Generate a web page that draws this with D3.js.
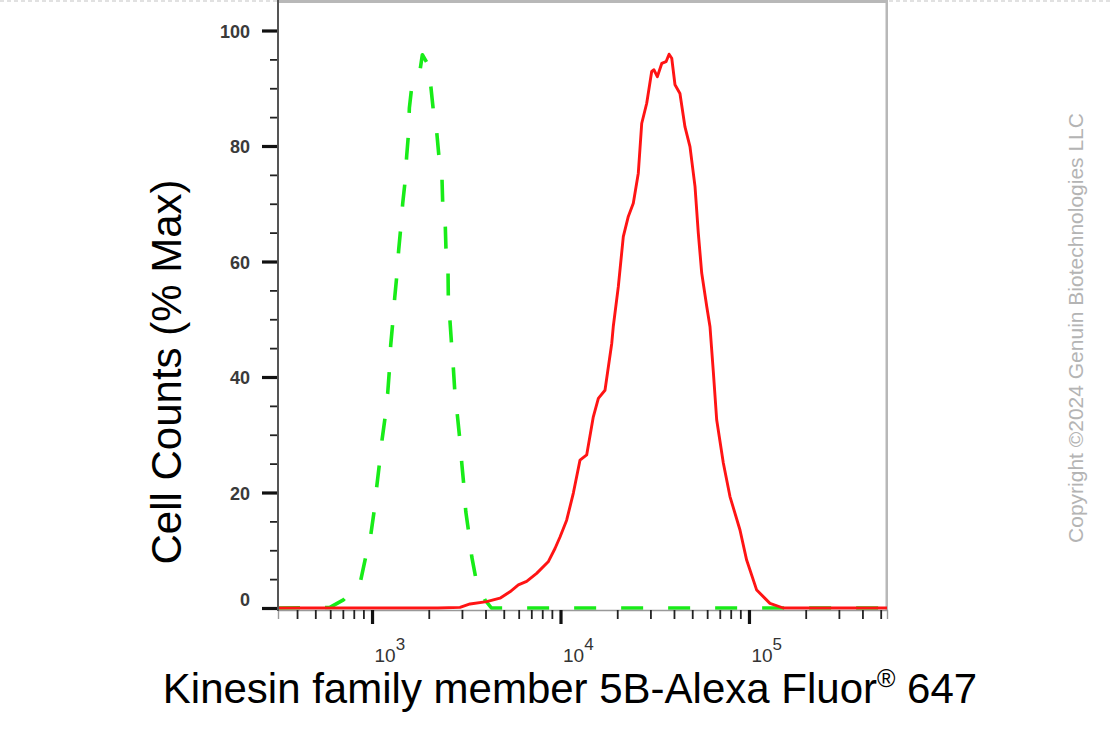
<!DOCTYPE html>
<html><head><meta charset="utf-8">
<script src="https://cdn.jsdelivr.net/npm/d3@7"></script>
<style>
body{margin:0;background:#fff;}
svg{display:block;font-family:"Liberation Sans",Arial,Helvetica,sans-serif;}
</style>
</head><body>
<svg id="c" width="1110" height="730"></svg>
<script>
// ---- data ----
const isotypeX = [317, 598, 705, 871, 918, 984, 1025, 1059, 1093, 1130, 1172, 1211, 1236, 1256, 1288, 1319, 1352, 1385, 1420, 1455, 1497, 1528, 1559, 1578, 1625, 1783, 1849, 1965, 2047, 2114, 2203, 2266, 2350, 2371, 2448, 2470, 2531, 2540, 2593, 2648, 2700, 2757, 2836, 2931, 2993, 3078, 3143, 3284, 3381, 3594, 3974, 4300, 540000];
const isotypeY = [0, 0.1, 1.4, 4.8, 8.3, 12.6, 16.7, 21.0, 24.8, 29.1, 32.9, 37.2, 41.2, 45.5, 49.4, 53.7, 57.4, 62.0, 65.8, 70.1, 73.8, 78.4, 81.9, 86.6, 90.3, 92.3, 95.8, 94.3, 90.6, 86.2, 82.5, 78.1, 74.5, 70.1, 66.0, 61.7, 58.0, 53.7, 49.6, 45.2, 41.6, 36.9, 33.4, 28.8, 25.1, 20.8, 16.7, 12.3, 8.9, 4.3, 1.4, 0, 0];
const sampleX = [317, 2239, 2930, 3311, 4058, 4773, 5393, 5976, 6612, 7472, 8606, 9350, 9940, 10780, 11700, 12690, 13770, 14930, 15880, 17220, 18700, 19050, 20260, 21540, 22900, 24340, 25870, 26970, 28670, 30470, 31330, 32640, 34450, 36310, 37680, 38930, 40500, 43030, 45760, 48640, 51720, 53850, 56140, 59700, 62120, 64700, 67400, 73100, 79300, 89600, 97200, 109900, 129200, 152000, 540000];
const sampleY = [0, 0, 0.1, 0.7, 1.1, 1.7, 2.8, 4.0, 4.6, 6.0, 8.0, 10.3, 12.3, 15.2, 19.9, 25.6, 26.5, 33.1, 36.3, 37.7, 45.8, 48.7, 55.6, 64.3, 67.8, 70.1, 75.3, 83.9, 87.4, 92.9, 93.2, 92.0, 94.3, 94.6, 95.9, 95.2, 90.6, 89.1, 83.3, 79.9, 73.0, 64.9, 58.0, 52.2, 48.7, 40.9, 32.6, 25.1, 19.3, 13.5, 8.3, 3.1, 0.8, 0, 0];
const xDomain = [317, 540000];
const yMajorTicks = [0, 20, 40, 60, 80, 100];
const yMinorTicks = [5, 10, 15, 25, 30, 35, 45, 50, 55, 65, 70, 75, 85, 90, 95];
const xDecades = [1e3, 1e4, 1e5];
const xDecadeExponents = ["3", "4", "5"];
const xTitle = "Kinesin family member 5B-Alexa Fluor";
const xTitleTail = " 647";
const yTitle = "Cell Counts (% Max)";
const copyright = "Copyright \u00A92024 Genuin Biotechnologies LLC";

// ---- layout ----
const L = 278, R = 887, T = 2, B = 608;
const svg = d3.select("#c");
const x = d3.scaleLog().domain(xDomain).range([L, R]);
const y = d3.scaleLinear().domain([0, 100]).range([B, 30.5]);

// top dashed page line
svg.append("line").attr("x1", 0).attr("x2", 1110).attr("y1", 1).attr("y2", 1)
  .attr("stroke", "#c4c4c4").attr("stroke-width", 1.2).attr("stroke-dasharray", "4,3");

// frame
svg.append("rect").attr("x", L).attr("y", 0).attr("width", R - L).attr("height", 3).attr("fill", "#b8b8b8");
svg.append("rect").attr("x", R - 1.5).attr("y", 0).attr("width", 2.5).attr("height", 610).attr("fill", "#b8b8b8");

// clip
svg.append("clipPath").attr("id", "pc").append("rect")
  .attr("x", L).attr("y", T).attr("width", R - L).attr("height", 612 - T);

const line = d3.line().x(d => x(d[0])).y(d => y(d[1])).curve(d3.curveLinear);
const plot = svg.append("g").attr("clip-path", "url(#pc)");
plot.append("path").datum(d3.zip(isotypeX, isotypeY))
  .attr("d", line).attr("fill", "none").attr("stroke", "#18ec18")
  .attr("stroke-width", 3.6).attr("stroke-dasharray", "22,25").attr("stroke-linejoin", "round");
plot.append("path").datum(d3.zip(sampleX, sampleY))
  .attr("d", line).attr("fill", "none").attr("stroke", "#ff1414")
  .attr("stroke-width", 2.9).attr("stroke-linejoin", "round");

// x axis
const gxMinor = svg.append("g").attr("transform", "translate(0,610)")
  .call(d3.axisBottom(x).tickValues(x.ticks().filter(v => !xDecades.includes(v))).tickSize(9).tickFormat(""));
gxMinor.selectAll(".tick line").attr("stroke", "#222").attr("stroke-width", 1.8);
gxMinor.select(".domain").attr("stroke", "#999").attr("stroke-width", 1.4);
const gxMajor = svg.append("g").attr("transform", "translate(0,610)")
  .call(d3.axisBottom(x).tickValues(xDecades).tickSize(14).tickFormat(""));
gxMajor.select(".domain").remove();
gxMajor.selectAll(".tick line").attr("stroke", "#111").attr("stroke-width", 3.2);
gxMajor.selectAll(".tick").append("text")
  .attr("x", 2).attr("y", 52).attr("text-anchor", "start")
  .attr("fill", "#333").style("font-size", "19px")
  .each(function(d, i) {
    const t = d3.select(this);
    t.append("tspan").text("10");
    t.append("tspan").style("font-size", "17px").attr("dy", -12).text(xDecadeExponents[i]);
  });

// y axis
const gyMinor = svg.append("g").attr("transform", `translate(${L},0)`)
  .call(d3.axisLeft(y).tickValues(yMinorTicks).tickSize(8).tickFormat(""));
gyMinor.select(".domain").remove();
gyMinor.selectAll(".tick line").attr("stroke", "#222").attr("stroke-width", 1.8);
const gyMajor = svg.append("g").attr("transform", `translate(${L},0)`)
  .call(d3.axisLeft(y).tickValues(yMajorTicks).tickSize(16).tickPadding(12).tickFormat(d3.format("d")));
gyMajor.select(".domain").remove();
gyMajor.selectAll(".tick line").attr("stroke", "#111").attr("stroke-width", 3.2);
gyMajor.selectAll(".tick text").attr("fill", "#3a3a3a").style("font-size", "18px").style("font-weight", "bold")
  .attr("dy", d => d === 0 ? "-0.15em" : "0.38em");
svg.append("line").attr("x1", L).attr("x2", L).attr("y1", 0).attr("y2", 611)
  .attr("stroke", "#555").attr("stroke-width", 2);

// titles
const xt = svg.append("text").attr("x", 570).attr("y", 703).attr("text-anchor", "middle")
  .style("font-size", "42px").attr("fill", "#000");
xt.append("tspan").text(xTitle);
xt.append("tspan").style("font-size", "25px").attr("dy", -16).text("\u00AE");
xt.append("tspan").attr("dy", 16).text(xTitleTail);

svg.append("text").attr("transform", "translate(181,372) rotate(-90)")
  .attr("text-anchor", "middle").style("font-size", "42px").attr("fill", "#000").text(yTitle);

svg.append("text").attr("transform", "translate(1083,328) rotate(-90)")
  .attr("text-anchor", "middle").style("font-size", "21px").attr("fill", "#b4b4b4").text(copyright);
</script>
</body></html>
